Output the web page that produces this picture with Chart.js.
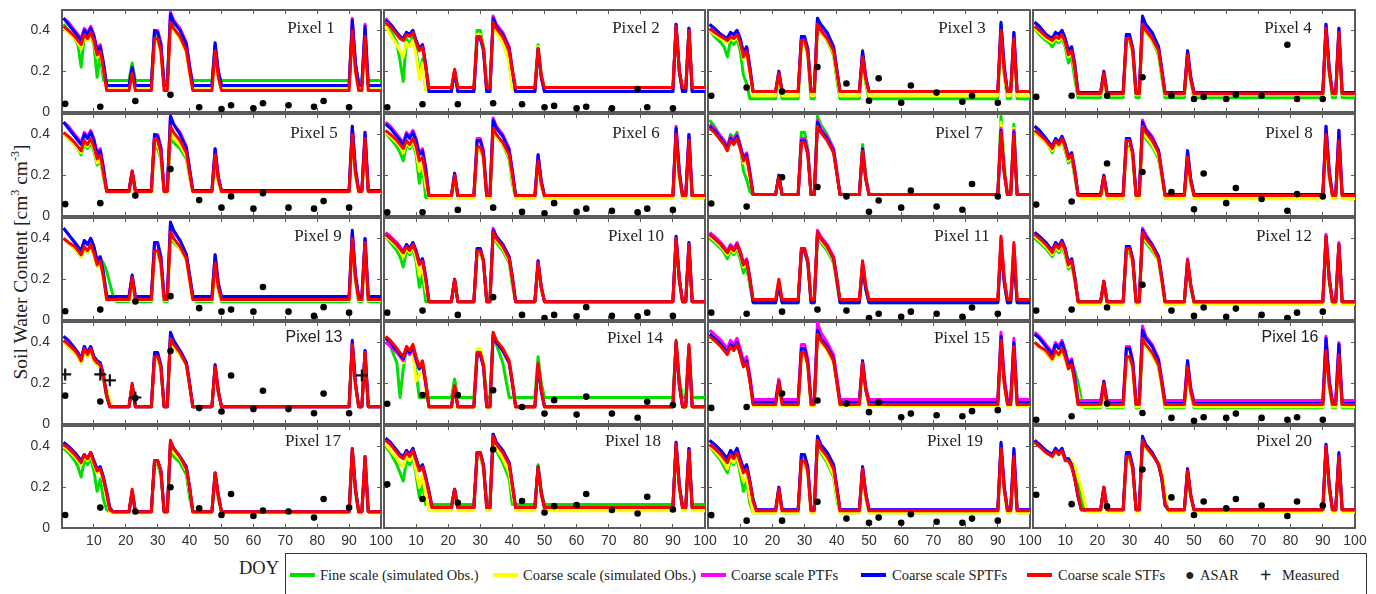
<!DOCTYPE html>
<html>
<head>
<meta charset="utf-8">
<script src="https://cdn.jsdelivr.net/npm/chart.js@4.4.0/dist/chart.umd.min.js"></script>
<style>
  body { margin: 0; width: 1376px; height: 594px; overflow: hidden; background: #fff; position: relative;
         font-family: "Liberation Serif", "DejaVu Serif", serif; color: #222; }
  canvas { position: absolute; }
  .pix { position: absolute; font-size: 17px; line-height: 1; white-space: nowrap; transform: translate(-50%, -50%); }
  .sans { font-family: "Liberation Sans", Arial, sans-serif; font-size: 16px; }
  #ytitle { position: absolute; left: 20px; top: 262px; font-size: 19.5px; white-space: nowrap;
            transform: translate(-50%, -50%) rotate(-90deg); }
  #ytitle sup { font-size: 12px; }
  #doy { position: absolute; left: 239px; top: 558px; font-size: 18.5px; }
  #legend { position: absolute; left: 285px; top: 553px; width: 1080px; height: 60px; border: 1.5px solid #333; }
  .li { position: absolute; top: 575px; font-size: 14.5px; line-height: 1; white-space: nowrap; transform: translateY(-50%); }
  .sw { position: absolute; top: 573px; width: 25px; height: 3.5px; }
</style>
</head>
<body>
<div id="ytitle">Soil Water Content [cm<sup>3</sup> cm<sup>-3</sup>]</div>
<div id="doy">DOY</div>
<div id="legend"></div>
<div class="sw" style="left:290px;background:#00e000"></div><div class="li" style="left:320px">Fine scale (simulated Obs.)</div>
<div class="sw" style="left:493px;background:#ffff00"></div><div class="li" style="left:523px">Coarse scale (simulated Obs.)</div>
<div class="sw" style="left:701px;background:#ff00ff"></div><div class="li" style="left:731px">Coarse scale PTFs</div>
<div class="sw" style="left:861px;background:#0000ff"></div><div class="li" style="left:892px">Coarse scale SPTFs</div>
<div class="sw" style="left:1027px;background:#ff0000"></div><div class="li" style="left:1058px">Coarse scale STFs</div>
<div class="li" style="left:1185px;font-size:16px">&#9679;</div><div class="li" style="left:1200px">ASAR</div>
<div class="li" style="left:1260px;font-size:20px;font-weight:bold">+</div><div class="li" style="left:1282px">Measured</div>
<script>
// day-of-year vertices shared by every simulated series
const doyKnots = [0.5, 2, 4, 5, 6, 7, 8, 9, 10, 11, 12, 13, 14, 15, 16, 17,
  21, 22, 23, 28, 29, 30, 31, 32, 33, 34, 35, 37, 39, 40, 41, 42,
  47, 48, 49, 50, 90, 91, 92, 93, 94, 95, 96, 100];
const asarDoy = [1, 12, 23, 34, 43, 50, 53, 60, 63, 71, 79, 82, 90];
const measuredDoy = [1, 12, 15, 23, 94];
const measured13 = [0.243, 0.243, 0.214, 0.13, 0.238];

const xTicks = [0, 10, 20, 30, 40, 50, 60, 70, 80, 90, 100];
const yTicks = [0, 0.2, 0.4];

// Pixel 1
const fine1 = [.43,.40,.36,.33,.22,.37,.35,.38,.33,.17,.28,.155,.155,.155,.155,.155, .155,.24,.155, .155,.38,.38,.31,.155,.155,.45,.41, .37,.30,.21,.155,.155, .155,.31,.18,.155, .155,.40,.22,.155,.155,.37,.155,.155];
const coarse1 = [.41,.39,.36,.34,.31,.37,.35,.38,.34,.27,.29,.20,.115,.115,.115,.115, .115,.19,.115, .115,.35,.35,.29,.115,.115,.43,.40, .36,.29,.19,.115,.115, .115,.29,.17,.115, .115,.39,.20,.115,.115,.36,.115,.115];
const ptf1 = [.46,.44,.40,.38,.36,.41,.39,.42,.38,.31,.33,.24,.13,.13,.13,.13, .13,.21,.13, .13,.40,.40,.34,.13,.13,.49,.45, .41,.34,.23,.13,.13, .13,.33,.20,.13, .13,.46,.24,.13,.13,.43,.13,.13];
const sptf1 = [.46,.43,.39,.37,.35,.40,.38,.41,.37,.30,.32,.24,.13,.13,.13,.13, .13,.22,.13, .13,.40,.39,.33,.13,.13,.48,.44, .40,.33,.22,.13,.13, .13,.34,.20,.13, .13,.45,.24,.13,.13,.42,.13,.13];
const stf1 = [.42,.40,.37,.35,.33,.38,.36,.39,.35,.28,.30,.21,.105,.105,.105,.105, .105,.19,.105, .105,.36,.36,.30,.105,.105,.44,.41, .37,.30,.20,.105,.105, .105,.30,.17,.105, .105,.40,.20,.105,.105,.37,.105,.105];
const asar1 = [.04,.026,.054,.084,.023,.015,.033,.018,.043,.033,.026,.054,.023];

// Pixel 2
const fine2 = [.43,.40,.34,.25,.15,.36,.33,.37,.30,.18,.26,.11,.11,.11,.11,.11, .11,.20,.11, .11,.40,.40,.32,.11,.11,.44,.40, .35,.25,.12,.11,.11, .11,.33,.18,.11, .11,.42,.20,.11,.11,.41,.11,.11];
const coarse2 = [.42,.38,.33,.30,.27,.34,.32,.35,.28,.16,.24,.11,.11,.11,.11,.11, .11,.20,.11, .11,.38,.38,.31,.11,.11,.43,.39, .34,.24,.11,.11,.11, .11,.32,.18,.11, .11,.41,.20,.11,.11,.40,.11,.11];
const ptf2 = [.46,.43,.39,.37,.36,.39,.38,.40,.35,.31,.33,.23,.10,.10,.10,.10, .10,.20,.10, .10,.37,.37,.31,.10,.10,.47,.43, .39,.32,.21,.10,.10, .10,.31,.17,.10, .10,.43,.20,.10,.10,.41,.10,.10];
const sptf2 = [.45,.43,.39,.37,.36,.39,.38,.40,.35,.31,.33,.23,.10,.10,.10,.10, .10,.20,.10, .10,.36,.36,.30,.10,.10,.46,.42, .38,.31,.20,.10,.10, .10,.31,.17,.10, .10,.43,.20,.10,.10,.41,.10,.10];
const stf2 = [.44,.42,.38,.36,.35,.38,.37,.39,.34,.30,.32,.22,.12,.12,.12,.12, .12,.21,.12, .12,.37,.37,.31,.12,.12,.44,.41, .37,.30,.20,.12,.12, .12,.31,.18,.12, .12,.42,.20,.12,.12,.40,.12,.12];
const asar2 = [.023,.038,.038,.043,.038,.023,.03,.018,.026,.018,.112,.023,.018];

// Pixel 3
const fine3 = [.40,.37,.34,.32,.27,.35,.33,.36,.30,.18,.14,.065,.065,.065,.065,.065, .065,.17,.065, .065,.34,.34,.28,.065,.065,.42,.39, .35,.28,.16,.065,.065, .065,.26,.14,.065, .065,.39,.18,.065,.065,.35,.065,.065];
const coarse3 = [.40,.38,.36,.35,.34,.36,.35,.37,.33,.26,.29,.19,.08,.08,.08,.08, .08,.18,.08, .08,.34,.34,.28,.08,.08,.42,.39, .35,.29,.18,.08,.08, .08,.26,.15,.08, .08,.39,.19,.08,.08,.35,.08,.08];
const ptf3 = [.43,.41,.38,.37,.36,.39,.38,.40,.36,.29,.32,.22,.10,.10,.10,.10, .10,.20,.10, .10,.37,.36,.31,.10,.10,.46,.42, .38,.32,.21,.10,.10, .10,.29,.17,.10, .10,.43,.22,.10,.10,.39,.10,.10];
const sptf3 = [.43,.41,.38,.37,.36,.39,.38,.40,.36,.29,.32,.22,.10,.10,.10,.10, .10,.20,.10, .10,.37,.37,.31,.10,.10,.46,.43, .39,.32,.21,.10,.10, .10,.30,.17,.10, .10,.44,.22,.10,.10,.39,.10,.10];
const stf3 = [.41,.39,.37,.36,.35,.37,.36,.38,.34,.27,.30,.20,.10,.10,.10,.10, .10,.19,.10, .10,.35,.35,.29,.10,.10,.43,.40, .36,.30,.20,.10,.10, .10,.27,.16,.10, .10,.40,.20,.10,.10,.36,.10,.10];
const asar3 = [.08,.12,.10,.22,.14,.055,.165,.045,.13,.095,.05,.08,.045];

// Pixel 4
const fine4 = [.41,.38,.35,.34,.32,.35,.34,.36,.32,.24,.27,.16,.07,.07,.07,.07, .07,.18,.07, .07,.35,.35,.29,.07,.07,.42,.39, .35,.28,.17,.07,.07, .07,.27,.15,.07, .07,.40,.19,.07,.07,.38,.07,.07];
const coarse4 = [.41,.39,.36,.35,.34,.36,.35,.37,.33,.27,.29,.20,.085,.085,.085,.085, .085,.18,.085, .085,.35,.35,.29,.085,.085,.42,.39, .35,.29,.19,.085,.085, .085,.27,.15,.085, .085,.40,.19,.085,.085,.38,.085,.085];
const ptf4 = [.44,.42,.38,.37,.36,.39,.38,.40,.36,.30,.32,.23,.095,.095,.095,.095, .095,.20,.095, .095,.38,.37,.31,.095,.095,.46,.42, .38,.32,.21,.095,.095, .095,.30,.17,.095, .095,.43,.21,.095,.095,.41,.095,.095];
const sptf4 = [.44,.42,.38,.37,.36,.39,.38,.40,.36,.30,.32,.23,.095,.095,.095,.095, .095,.20,.095, .095,.38,.38,.31,.095,.095,.47,.43, .39,.32,.21,.095,.095, .095,.30,.17,.095, .095,.43,.21,.095,.095,.41,.095,.095];
const stf4 = [.42,.40,.37,.36,.35,.37,.36,.38,.34,.28,.30,.21,.09,.09,.09,.09, .09,.19,.09, .09,.36,.36,.30,.09,.09,.43,.40, .36,.30,.20,.09,.09, .09,.28,.16,.09, .09,.41,.20,.09,.09,.39,.09,.09];
const asar4 = [.074,.08,.08,.17,.08,.064,.074,.064,.085,.08,.33,.064,.064];

// Pixel 5
const fine5 = [.40,.38,.35,.33,.30,.35,.33,.36,.32,.25,.27,.19,.12,.12,.12,.12, .12,.21,.12, .12,.33,.33,.28,.12,.12,.38,.36, .33,.28,.19,.12,.12, .12,.28,.17,.12, .12,.39,.20,.12,.12,.37,.12,.12];
const coarse5 = [.40,.38,.35,.33,.31,.36,.34,.37,.33,.26,.28,.20,.115,.115,.115,.115, .115,.21,.115, .115,.35,.35,.29,.115,.115,.41,.38, .35,.29,.19,.115,.115, .115,.29,.17,.115, .115,.39,.20,.115,.115,.37,.115,.115];
const ptf5 = [.46,.44,.40,.38,.36,.41,.39,.42,.38,.31,.33,.24,.125,.125,.125,.125, .125,.22,.125, .125,.40,.40,.34,.125,.125,.49,.45, .41,.34,.23,.125,.125, .125,.33,.19,.125, .125,.44,.23,.125,.125,.41,.125,.125];
const sptf5 = [.46,.43,.39,.37,.35,.40,.38,.41,.37,.30,.32,.23,.125,.125,.125,.125, .125,.22,.125, .125,.40,.39,.33,.125,.125,.49,.45, .40,.33,.23,.125,.125, .125,.33,.19,.125, .125,.44,.23,.125,.125,.41,.125,.125];
const stf5 = [.41,.39,.36,.34,.32,.37,.35,.38,.34,.28,.30,.21,.12,.12,.12,.12, .12,.22,.12, .12,.38,.37,.31,.12,.12,.44,.41, .37,.31,.21,.12,.12, .12,.30,.18,.12, .12,.40,.21,.12,.12,.38,.12,.12];
const asar5 = [.058,.063,.10,.23,.078,.041,.096,.036,.112,.041,.036,.073,.041];

// Pixel 6
const fine6 = [.41,.38,.34,.31,.27,.35,.33,.36,.30,.16,.24,.09,.09,.09,.09,.09, .09,.19,.09, .09,.33,.33,.28,.09,.09,.42,.39, .35,.28,.16,.09,.09, .09,.26,.15,.09, .09,.39,.19,.09,.09,.36,.09,.09];
const coarse6 = [.41,.39,.36,.34,.31,.36,.34,.37,.32,.22,.26,.15,.09,.09,.09,.09, .09,.19,.09, .09,.33,.33,.28,.09,.09,.42,.39, .35,.29,.18,.09,.09, .09,.26,.15,.09, .09,.39,.19,.09,.09,.36,.09,.09];
const ptf6 = [.46,.44,.40,.38,.36,.41,.39,.42,.38,.31,.33,.24,.10,.10,.10,.10, .10,.21,.10, .10,.38,.38,.32,.10,.10,.48,.44, .40,.33,.22,.10,.10, .10,.30,.17,.10, .10,.44,.22,.10,.10,.40,.10,.10];
const sptf6 = [.45,.43,.39,.37,.35,.40,.38,.41,.37,.30,.32,.23,.10,.10,.10,.10, .10,.21,.10, .10,.37,.37,.31,.10,.10,.47,.43, .39,.32,.22,.10,.10, .10,.30,.17,.10, .10,.43,.22,.10,.10,.40,.10,.10];
const stf6 = [.42,.40,.37,.35,.33,.37,.35,.38,.34,.27,.29,.20,.10,.10,.10,.10, .10,.20,.10, .10,.34,.34,.29,.10,.10,.43,.40, .36,.30,.20,.10,.10, .10,.27,.16,.10, .10,.40,.20,.10,.10,.37,.10,.10];
const asar6 = [.018,.018,.03,.041,.02,.013,.063,.02,.036,.025,.018,.036,.03];

// Pixel 7
const fine7 = [.47,.44,.39,.37,.33,.40,.38,.41,.35,.22,.18,.12,.105,.105,.105,.105, .105,.20,.105, .105,.41,.41,.33,.105,.105,.49,.45, .40,.33,.22,.105,.105, .105,.35,.20,.105, .105,.49,.25,.105,.105,.45,.105,.105];
const coarse7 = [.44,.41,.37,.35,.32,.37,.35,.38,.33,.26,.28,.19,.105,.105,.105,.105, .105,.19,.105, .105,.38,.38,.31,.105,.105,.47,.43, .38,.31,.21,.105,.105, .105,.33,.19,.105, .105,.46,.23,.105,.105,.43,.105,.105];
const ptf7 = [.45,.43,.39,.37,.34,.39,.37,.40,.35,.29,.31,.22,.105,.105,.105,.105, .105,.20,.105, .105,.38,.38,.32,.105,.105,.47,.43, .39,.33,.22,.105,.105, .105,.33,.19,.105, .105,.43,.22,.105,.105,.42,.105,.105];
const sptf7 = [.44,.42,.38,.36,.33,.38,.36,.39,.34,.28,.30,.21,.105,.105,.105,.105, .105,.20,.105, .105,.37,.37,.31,.105,.105,.46,.42, .38,.32,.21,.105,.105, .105,.33,.18,.105, .105,.42,.21,.105,.105,.41,.105,.105];
const stf7 = [.43,.41,.37,.35,.32,.37,.35,.38,.33,.27,.29,.20,.105,.105,.105,.105, .105,.19,.105, .105,.36,.36,.30,.105,.105,.44,.41, .37,.31,.21,.105,.105, .105,.32,.18,.105, .105,.41,.21,.105,.105,.40,.105,.105];
const asar7 = [.061,.046,.19,.142,.096,.021,.076,.041,.125,.046,.031,.157,.096];

// Pixel 8
const fine8 = [.41,.39,.36,.34,.31,.36,.34,.37,.32,.26,.28,.19,.10,.10,.10,.10, .10,.18,.10, .10,.34,.34,.28,.10,.10,.42,.38, .34,.28,.19,.10,.10, .10,.27,.16,.10, .10,.38,.19,.10,.10,.36,.10,.10];
const coarse8 = [.41,.39,.36,.34,.32,.36,.34,.37,.33,.27,.29,.20,.12,.085,.085,.085, .085,.18,.085, .085,.33,.33,.28,.085,.085,.42,.39, .35,.29,.19,.085,.085, .085,.27,.16,.085, .085,.38,.19,.085,.085,.36,.085,.085];
const ptf8 = [.44,.42,.38,.36,.34,.38,.36,.39,.35,.29,.31,.22,.105,.105,.105,.105, .105,.20,.105, .105,.38,.38,.31,.105,.105,.47,.43, .39,.32,.22,.105,.105, .105,.32,.18,.105, .105,.44,.22,.105,.105,.42,.105,.105];
const sptf8 = [.44,.42,.38,.36,.34,.38,.36,.39,.35,.29,.31,.22,.105,.105,.105,.105, .105,.20,.105, .105,.38,.38,.31,.105,.105,.46,.42, .38,.32,.21,.105,.105, .105,.32,.18,.105, .105,.44,.22,.105,.105,.42,.105,.105];
const stf8 = [.42,.40,.37,.35,.33,.37,.35,.38,.34,.28,.30,.21,.10,.10,.10,.10, .10,.19,.10, .10,.37,.37,.30,.10,.10,.44,.41, .37,.31,.21,.10,.10, .10,.29,.17,.10, .10,.40,.20,.10,.10,.37,.10,.10];
const asar8 = [.056,.071,.257,.216,.117,.033,.208,.063,.137,.083,.026,.107,.096];

// Pixel 9
const fine9 = [.40,.38,.35,.33,.31,.35,.33,.36,.32,.30,.30,.28,.24,.18,.12,.09, .09,.20,.09, .09,.33,.33,.27,.09,.09,.41,.38, .35,.30,.22,.12,.09, .09,.27,.15,.09, .09,.39,.19,.09,.09,.37,.09,.09];
const coarse9 = [.40,.38,.35,.33,.31,.35,.33,.36,.32,.26,.28,.20,.095,.095,.095,.095, .095,.20,.095, .095,.33,.33,.27,.095,.095,.42,.39, .35,.29,.19,.095,.095, .095,.27,.15,.095, .095,.39,.19,.095,.095,.37,.095,.095];
const ptf9 = [.45,.42,.38,.36,.34,.39,.37,.40,.36,.29,.31,.23,.115,.115,.115,.115, .115,.22,.115, .115,.38,.37,.31,.115,.115,.47,.43, .39,.32,.22,.115,.115, .115,.32,.18,.115, .115,.43,.22,.115,.115,.40,.115,.115];
const sptf9 = [.45,.42,.38,.36,.34,.39,.37,.40,.36,.29,.31,.23,.115,.115,.115,.115, .115,.22,.115, .115,.38,.38,.31,.115,.115,.48,.44, .39,.32,.22,.115,.115, .115,.32,.18,.115, .115,.44,.22,.115,.115,.40,.115,.115];
const stf9 = [.40,.38,.36,.34,.32,.36,.34,.37,.33,.27,.29,.21,.10,.10,.10,.10, .10,.21,.10, .10,.34,.34,.28,.10,.10,.43,.40, .36,.30,.20,.10,.10, .10,.28,.16,.10, .10,.40,.20,.10,.10,.38,.10,.10];
const asar9 = [.043,.051,.091,.117,.058,.041,.051,.041,.162,.041,.02,.063,.036];

// Pixel 10
const fine10 = [.41,.38,.34,.31,.26,.34,.32,.35,.29,.16,.22,.09,.09,.09,.09,.09, .09,.19,.09, .09,.33,.33,.28,.09,.09,.42,.38, .34,.28,.17,.09,.09, .09,.27,.15,.09, .09,.39,.19,.09,.09,.36,.09,.09];
const coarse10 = [.41,.39,.36,.34,.31,.35,.33,.36,.31,.22,.26,.15,.09,.09,.09,.09, .09,.19,.09, .09,.33,.33,.28,.09,.09,.42,.39, .35,.29,.19,.09,.09, .09,.27,.15,.09, .09,.39,.19,.09,.09,.36,.09,.09];
const ptf10 = [.43,.41,.38,.36,.34,.37,.35,.38,.34,.28,.30,.21,.09,.09,.09,.09, .09,.20,.09, .09,.35,.35,.29,.09,.09,.45,.41, .37,.31,.21,.09,.09, .09,.29,.16,.09, .09,.41,.20,.09,.09,.38,.09,.09];
const sptf10 = [.42,.40,.37,.35,.33,.37,.35,.38,.34,.28,.30,.21,.09,.09,.09,.09, .09,.20,.09, .09,.35,.35,.29,.09,.09,.44,.41, .37,.31,.21,.09,.09, .09,.29,.16,.09, .09,.41,.20,.09,.09,.38,.09,.09];
const stf10 = [.42,.40,.37,.35,.33,.36,.34,.37,.33,.27,.29,.20,.09,.09,.09,.09, .09,.20,.09, .09,.34,.34,.29,.09,.09,.43,.40, .36,.30,.20,.09,.09, .09,.28,.16,.09, .09,.40,.20,.09,.09,.37,.09,.09];
const asar10 = [.036,.046,.025,.112,.025,.01,.025,.018,.063,.02,.018,.036,.02];

// Pixel 11
const fine11 = [.40,.38,.35,.33,.30,.34,.32,.35,.30,.23,.26,.17,.085,.085,.085,.085, .085,.18,.085, .085,.33,.33,.28,.085,.085,.41,.38, .34,.28,.18,.085,.085, .085,.27,.15,.085, .085,.38,.19,.085,.085,.35,.085,.085];
const coarse11 = [.41,.39,.36,.34,.32,.35,.33,.36,.32,.26,.28,.19,.085,.085,.085,.085, .085,.19,.085, .085,.34,.34,.28,.085,.085,.42,.39, .35,.29,.19,.085,.085, .085,.28,.16,.085, .085,.39,.19,.085,.085,.36,.085,.085];
const ptf11 = [.43,.41,.38,.36,.34,.37,.35,.38,.34,.28,.30,.21,.09,.09,.09,.09, .09,.19,.09, .09,.35,.35,.29,.09,.09,.44,.41, .37,.31,.21,.09,.09, .09,.28,.16,.09, .09,.40,.20,.09,.09,.37,.09,.09];
const sptf11 = [.42,.40,.37,.35,.33,.36,.34,.37,.33,.27,.29,.20,.085,.085,.085,.085, .085,.17,.085, .085,.34,.34,.28,.085,.085,.43,.40, .36,.30,.20,.085,.085, .085,.26,.15,.085, .085,.36,.18,.085,.085,.31,.085,.085];
const stf11 = [.42,.40,.37,.35,.33,.36,.34,.37,.33,.27,.29,.20,.10,.10,.10,.10, .10,.20,.10, .10,.35,.35,.29,.10,.10,.43,.40, .36,.30,.20,.10,.10, .10,.29,.17,.10, .10,.41,.20,.10,.10,.38,.10,.10];
const asar11 = [.036,.031,.041,.051,.046,.01,.031,.016,.041,.031,.016,.061,.031];

// Pixel 12
const fine12 = [.40,.38,.35,.33,.31,.35,.33,.36,.32,.25,.27,.19,.10,.08,.08,.08, .08,.18,.08, .08,.33,.33,.28,.08,.08,.41,.38, .34,.29,.19,.08,.08, .08,.27,.16,.08, .08,.39,.19,.08,.08,.35,.08,.08];
const coarse12 = [.41,.39,.36,.34,.32,.36,.34,.37,.33,.26,.28,.19,.08,.08,.08,.08, .08,.18,.08, .08,.34,.34,.28,.08,.08,.42,.39, .35,.29,.19,.08,.08, .08,.28,.16,.08, .08,.40,.19,.08,.08,.36,.08,.08];
const ptf12 = [.43,.41,.38,.36,.34,.38,.36,.39,.35,.28,.30,.21,.09,.09,.09,.09, .09,.19,.09, .09,.36,.36,.30,.09,.09,.45,.42, .37,.31,.21,.09,.09, .09,.30,.17,.09, .09,.42,.21,.09,.09,.38,.09,.09];
const sptf12 = [.43,.41,.38,.36,.34,.38,.36,.39,.35,.28,.30,.21,.09,.09,.09,.09, .09,.19,.09, .09,.36,.36,.30,.09,.09,.44,.41, .37,.31,.21,.09,.09, .09,.29,.17,.09, .09,.41,.20,.09,.09,.37,.09,.09];
const stf12 = [.42,.40,.37,.35,.33,.37,.35,.38,.34,.27,.29,.20,.09,.09,.09,.09, .09,.19,.09, .09,.35,.35,.29,.09,.09,.43,.40, .36,.30,.20,.09,.09, .09,.29,.17,.09, .09,.41,.20,.09,.09,.37,.09,.09];
const asar12 = [.046,.051,.061,.173,.046,.02,.061,.016,.056,.025,.01,.036,.041];

// Pixel 13
const fine13 = [.40,.38,.35,.33,.30,.36,.33,.36,.31,.29,.28,.22,.13,.085,.085,.085, .085,.19,.085, .085,.32,.32,.27,.085,.085,.41,.38, .34,.29,.19,.085,.085, .085,.27,.15,.085, .085,.38,.19,.085,.085,.34,.085,.085];
const coarse13 = [.40,.38,.35,.33,.30,.36,.33,.36,.31,.29,.28,.23,.17,.11,.085,.085, .085,.19,.085, .085,.32,.32,.27,.085,.085,.41,.38, .34,.29,.19,.085,.085, .085,.27,.15,.085, .085,.38,.19,.085,.085,.34,.085,.085];
const ptf13 = [.43,.41,.37,.35,.32,.38,.35,.38,.33,.31,.30,.24,.14,.085,.085,.085, .085,.19,.085, .085,.34,.34,.29,.085,.085,.44,.40, .36,.30,.20,.085,.085, .085,.29,.16,.085, .085,.40,.20,.085,.085,.36,.085,.085];
const sptf13 = [.43,.41,.37,.35,.32,.38,.35,.38,.33,.31,.30,.24,.14,.085,.085,.085, .085,.19,.085, .085,.35,.35,.29,.085,.085,.45,.41, .36,.30,.20,.085,.085, .085,.29,.16,.085, .085,.41,.20,.085,.085,.36,.085,.085];
const stf13 = [.41,.39,.36,.34,.31,.37,.34,.37,.32,.30,.29,.23,.14,.085,.085,.085, .085,.20,.085, .085,.33,.33,.28,.085,.085,.42,.39, .35,.29,.19,.085,.085, .085,.28,.16,.085, .085,.39,.19,.085,.085,.35,.085,.085];
const asar13 = [.139,.11,.127,.358,.078,.061,.238,.073,.163,.073,.053,.149,.053];

// Pixel 14
const fine14 = [.42,.38,.30,.13,.27,.37,.34,.36,.25,.13,.13,.13,.13,.13,.13,.13, .13,.22,.13, .13,.36,.36,.30,.13,.13,.43,.39, .30,.13,.13,.13,.13, .13,.33,.20,.13, .13,.40,.22,.13,.13,.38,.13,.13];
const coarse14 = [.42,.39,.35,.33,.30,.36,.34,.35,.21,.24,.27,.17,.08,.08,.08,.08, .08,.19,.08, .08,.37,.37,.30,.08,.08,.44,.40, .36,.29,.18,.08,.08, .08,.30,.17,.08, .08,.40,.19,.08,.08,.38,.08,.08];
const ptf14 = [.40,.38,.35,.33,.31,.36,.34,.37,.31,.27,.29,.20,.085,.085,.085,.085, .085,.18,.085, .085,.34,.34,.28,.085,.085,.43,.40, .36,.30,.20,.085,.085, .085,.29,.16,.085, .085,.39,.19,.085,.085,.37,.085,.085];
const sptf14 = [.42,.40,.36,.34,.32,.37,.35,.38,.32,.27,.30,.20,.085,.085,.085,.085, .085,.18,.085, .085,.34,.34,.28,.085,.085,.44,.40, .36,.30,.20,.085,.085, .085,.29,.16,.085, .085,.40,.19,.085,.085,.38,.085,.085];
const stf14 = [.43,.41,.37,.35,.33,.38,.36,.39,.33,.28,.31,.21,.085,.085,.085,.085, .085,.19,.085, .085,.35,.35,.29,.085,.085,.45,.41, .37,.31,.21,.085,.085, .085,.30,.17,.085, .085,.41,.20,.085,.085,.39,.085,.085];
const asar14 = [.099,.142,.142,.165,.083,.051,.117,.046,.134,.051,.031,.109,.093];

// Pixel 15
const fine15 = [.46,.43,.39,.37,.35,.39,.37,.40,.35,.29,.31,.22,.095,.095,.095,.095, .095,.20,.095, .095,.35,.35,.29,.095,.095,.44,.41, .37,.31,.21,.095,.095, .095,.29,.17,.095, .095,.40,.20,.095,.095,.37,.095,.095];
const coarse15 = [.43,.41,.38,.36,.34,.38,.36,.39,.34,.28,.30,.21,.09,.09,.09,.09, .09,.20,.09, .09,.34,.34,.29,.09,.09,.43,.40, .36,.30,.20,.09,.09, .09,.29,.17,.09, .09,.40,.20,.09,.09,.37,.09,.09];
const ptf15 = [.46,.44,.41,.39,.37,.41,.39,.42,.37,.31,.33,.24,.12,.12,.12,.12, .12,.22,.12, .12,.39,.39,.32,.12,.12,.50,.45, .40,.34,.23,.12,.12, .12,.31,.18,.12, .12,.45,.23,.12,.12,.42,.12,.12];
const sptf15 = [.44,.42,.39,.37,.35,.39,.37,.40,.35,.29,.31,.22,.105,.105,.105,.105, .105,.21,.105, .105,.37,.37,.30,.105,.105,.46,.42, .38,.32,.21,.105,.105, .105,.31,.17,.105, .105,.43,.21,.105,.105,.40,.105,.105];
const stf15 = [.43,.41,.38,.36,.34,.38,.36,.39,.34,.28,.30,.21,.095,.095,.095,.095, .095,.21,.095, .095,.35,.35,.29,.095,.095,.44,.41, .37,.31,.21,.095,.095, .095,.30,.17,.095, .095,.41,.20,.095,.095,.38,.095,.095];
const asar15 = [.079,.083,.149,.115,.10,.058,.107,.033,.051,.043,.038,.063,.068];

// Pixel 16
const fine16 = [.40,.38,.35,.33,.31,.35,.33,.36,.32,.29,.30,.26,.20,.12,.08,.08, .08,.19,.08, .08,.32,.32,.27,.08,.08,.41,.38, .34,.28,.19,.08,.08, .08,.27,.15,.08, .08,.36,.18,.08,.08,.33,.08,.08];
const coarse16 = [.40,.38,.35,.33,.31,.35,.33,.36,.32,.27,.29,.22,.15,.085,.085,.085, .085,.19,.085, .085,.32,.32,.27,.085,.085,.41,.38, .34,.28,.19,.085,.085, .085,.27,.15,.085, .085,.36,.18,.085,.085,.33,.085,.085];
const ptf16 = [.45,.43,.39,.37,.35,.40,.38,.41,.36,.30,.32,.23,.115,.115,.115,.115, .115,.21,.115, .115,.38,.38,.31,.115,.115,.48,.43, .39,.32,.22,.115,.115, .115,.31,.18,.115, .115,.43,.22,.115,.115,.40,.115,.115];
const sptf16 = [.44,.42,.38,.36,.34,.39,.37,.40,.35,.29,.31,.22,.10,.10,.10,.10, .10,.21,.10, .10,.37,.37,.30,.10,.10,.46,.42, .38,.31,.21,.10,.10, .10,.31,.17,.10, .10,.42,.21,.10,.10,.39,.10,.10];
const stf16 = [.40,.38,.36,.34,.32,.36,.34,.37,.33,.27,.29,.20,.095,.095,.095,.095, .095,.20,.095, .095,.33,.33,.28,.095,.095,.42,.39, .35,.29,.20,.095,.095, .095,.28,.16,.095, .095,.36,.19,.095,.095,.34,.095,.095];
const asar16 = [.021,.038,.10,.054,.03,.016,.033,.03,.051,.03,.021,.033,.021];

// Pixel 17
const fine17 = [.39,.37,.33,.30,.25,.33,.31,.34,.28,.18,.24,.14,.09,.08,.08,.08, .08,.17,.08, .08,.31,.31,.26,.08,.08,.37,.35, .32,.26,.15,.08,.08, .08,.25,.14,.08, .08,.36,.17,.08,.08,.32,.08,.08];
const coarse17 = [.40,.38,.35,.33,.31,.35,.33,.36,.31,.27,.28,.23,.15,.08,.075,.075, .075,.17,.075, .075,.32,.32,.27,.075,.075,.40,.37, .34,.28,.18,.075,.075, .075,.26,.15,.075, .075,.37,.18,.075,.075,.33,.075,.075];
const ptf17 = [.42,.40,.37,.35,.33,.36,.34,.37,.33,.29,.30,.24,.17,.09,.08,.08, .08,.18,.08, .08,.33,.33,.28,.08,.08,.42,.39, .35,.29,.20,.08,.08, .08,.27,.16,.08, .08,.38,.19,.08,.08,.34,.08,.08];
const sptf17 = [.42,.40,.37,.35,.33,.36,.34,.37,.33,.29,.30,.25,.18,.10,.08,.08, .08,.18,.08, .08,.33,.33,.28,.08,.08,.42,.39, .35,.30,.20,.08,.08, .08,.27,.16,.08, .08,.39,.19,.08,.08,.35,.08,.08];
const stf17 = [.41,.39,.36,.34,.32,.36,.34,.37,.32,.28,.29,.24,.17,.09,.08,.08, .08,.19,.08, .08,.33,.33,.28,.08,.08,.43,.39, .35,.29,.20,.08,.08, .08,.27,.16,.08, .08,.39,.19,.08,.08,.35,.08,.08];
const asar17 = [.064,.10,.081,.20,.097,.064,.167,.059,.086,.081,.051,.142,.10];

// Pixel 18
const fine18 = [.40,.37,.31,.27,.23,.33,.31,.35,.26,.15,.22,.115,.115,.115,.115,.115, .115,.19,.115, .115,.35,.35,.29,.115,.115,.42,.38, .32,.24,.115,.115,.115, .115,.31,.18,.115, .115,.40,.20,.115,.115,.37,.115,.115];
const coarse18 = [.41,.38,.34,.32,.30,.35,.33,.36,.28,.20,.26,.16,.085,.085,.085,.085, .085,.18,.085, .085,.36,.36,.29,.085,.085,.43,.39, .34,.27,.17,.085,.085, .085,.29,.16,.085, .085,.40,.19,.085,.085,.37,.085,.085];
const ptf18 = [.44,.42,.38,.36,.35,.38,.36,.39,.34,.29,.31,.25,.18,.10,.10,.10, .10,.19,.10, .10,.37,.37,.31,.10,.10,.46,.42, .38,.32,.21,.10,.10, .10,.30,.17,.10, .10,.42,.21,.10,.10,.39,.10,.10];
const sptf18 = [.44,.42,.38,.36,.35,.38,.36,.39,.34,.29,.31,.25,.18,.10,.10,.10, .10,.19,.10, .10,.37,.37,.31,.10,.10,.46,.42, .38,.32,.21,.10,.10, .10,.30,.17,.10, .10,.42,.21,.10,.10,.39,.10,.10];
const stf18 = [.43,.41,.37,.35,.34,.37,.35,.38,.33,.28,.30,.24,.17,.10,.10,.10, .10,.19,.10, .10,.37,.37,.30,.10,.10,.45,.41, .37,.31,.21,.10,.10, .10,.30,.17,.10, .10,.41,.20,.10,.10,.38,.10,.10];
const asar18 = [.214,.142,.124,.385,.132,.076,.107,.112,.167,.088,.071,.153,.091];

// Pixel 19
const fine19 = [.40,.37,.33,.30,.27,.33,.31,.34,.27,.18,.23,.12,.075,.075,.075,.075, .075,.18,.075, .075,.32,.32,.27,.075,.075,.41,.37, .32,.25,.14,.075,.075, .075,.28,.15,.075, .075,.38,.18,.075,.075,.34,.075,.075];
const coarse19 = [.40,.38,.34,.32,.29,.34,.32,.35,.29,.23,.25,.15,.075,.075,.075,.075, .075,.18,.075, .075,.32,.32,.27,.075,.075,.42,.38, .33,.26,.15,.075,.075, .075,.28,.15,.075, .075,.38,.18,.075,.075,.34,.075,.075];
const ptf19 = [.43,.41,.38,.36,.34,.38,.36,.39,.34,.29,.31,.23,.14,.09,.09,.09, .09,.20,.09, .09,.36,.35,.30,.09,.09,.45,.41, .37,.31,.20,.09,.09, .09,.30,.17,.09, .09,.41,.20,.09,.09,.38,.09,.09];
const sptf19 = [.43,.41,.38,.36,.34,.38,.36,.39,.34,.29,.31,.23,.14,.09,.09,.09, .09,.20,.09, .09,.36,.36,.30,.09,.09,.45,.41, .37,.31,.20,.09,.09, .09,.30,.17,.09, .09,.42,.20,.09,.09,.39,.09,.09];
const stf19 = [.41,.39,.36,.34,.32,.36,.34,.37,.32,.27,.29,.22,.13,.085,.085,.085, .085,.19,.085, .085,.33,.33,.28,.085,.085,.43,.39, .35,.29,.19,.085,.085, .085,.29,.16,.085, .085,.39,.19,.085,.085,.35,.085,.085];
const asar19 = [.063,.036,.036,.129,.046,.026,.051,.026,.068,.031,.026,.046,.036];

// Pixel 20
const fine20 = [.42,.40,.37,.36,.35,.38,.36,.38,.34,.34,.32,.28,.22,.15,.085,.085, .085,.19,.085, .085,.34,.34,.29,.085,.085,.42,.39, .36,.32,.26,.15,.085, .085,.27,.15,.085, .085,.39,.19,.085,.085,.34,.085,.085];
const coarse20 = [.42,.40,.37,.36,.35,.38,.36,.38,.34,.34,.33,.30,.25,.20,.13,.08, .08,.19,.08, .08,.33,.33,.29,.08,.08,.42,.39, .36,.32,.27,.17,.08, .08,.27,.15,.08, .08,.39,.19,.08,.08,.34,.08,.08];
const ptf20 = [.43,.41,.38,.37,.36,.39,.37,.39,.34,.34,.31,.24,.16,.09,.09,.09, .09,.20,.09, .09,.36,.36,.30,.09,.09,.44,.41, .37,.31,.24,.12,.09, .09,.29,.16,.09, .09,.41,.21,.09,.09,.36,.09,.09];
const sptf20 = [.43,.41,.38,.37,.36,.39,.37,.39,.34,.34,.31,.24,.15,.09,.09,.09, .09,.20,.09, .09,.37,.37,.30,.09,.09,.45,.41, .37,.31,.24,.11,.09, .09,.29,.16,.09, .09,.41,.21,.09,.09,.37,.09,.09];
const stf20 = [.42,.40,.37,.36,.35,.38,.36,.38,.33,.33,.30,.24,.16,.09,.09,.09, .09,.20,.09, .09,.35,.35,.29,.09,.09,.43,.40, .36,.31,.25,.12,.09, .09,.28,.16,.09, .09,.40,.20,.09,.09,.35,.09,.09];
const asar20 = [.163,.117,.106,.287,.15,.064,.13,.097,.142,.11,.059,.13,.11];

const panels = [
  [fine1, coarse1, ptf1, sptf1, stf1, asar1], [fine2, coarse2, ptf2, sptf2, stf2, asar2],
  [fine3, coarse3, ptf3, sptf3, stf3, asar3], [fine4, coarse4, ptf4, sptf4, stf4, asar4],
  [fine5, coarse5, ptf5, sptf5, stf5, asar5], [fine6, coarse6, ptf6, sptf6, stf6, asar6],
  [fine7, coarse7, ptf7, sptf7, stf7, asar7], [fine8, coarse8, ptf8, sptf8, stf8, asar8],
  [fine9, coarse9, ptf9, sptf9, stf9, asar9], [fine10, coarse10, ptf10, sptf10, stf10, asar10],
  [fine11, coarse11, ptf11, sptf11, stf11, asar11], [fine12, coarse12, ptf12, sptf12, stf12, asar12],
  [fine13, coarse13, ptf13, sptf13, stf13, asar13], [fine14, coarse14, ptf14, sptf14, stf14, asar14],
  [fine15, coarse15, ptf15, sptf15, stf15, asar15], [fine16, coarse16, ptf16, sptf16, stf16, asar16],
  [fine17, coarse17, ptf17, sptf17, stf17, asar17], [fine18, coarse18, ptf18, sptf18, stf18, asar18],
  [fine19, coarse19, ptf19, sptf19, stf19, asar19], [fine20, coarse20, ptf20, sptf20, stf20, asar20],
];

const seriesNames = ["Fine scale (simulated Obs.)", "Coarse scale (simulated Obs.)",
  "Coarse scale PTFs", "Coarse scale SPTFs", "Coarse scale STFs"];
const seriesColors = ["#00e000", "#ffff00", "#ff00ff", "#0000ff", "#ff0000"];

// panel layout (page pixels)
const colLeft = [62, 384, 708, 1033];
const colWidth = [319, 321, 322, 322];
const rowTop = [10, 114, 218, 322, 426];
const rowHeight = 102;
const padL = 50, padR = 20, padT = 6, padB = 26;
const labelX = [311, 636, 962, 1288, 314, 636, 959, 1289, 318, 636, 962, 1284, 314, 635, 962, 1290, 313, 633, 955, 1284];
const labelDy = [17, 18, 17, 15, 14];

Chart.defaults.font.family = '"Liberation Sans", Arial, sans-serif';
Chart.defaults.font.size = 14;
Chart.defaults.color = "#333";

const toXY = (xs, ys) => xs.map((x, i) => ({ x: x, y: ys[i] }));
const frame = { display: true, color: "#5a5a5a", width: 2 };
const tickGrid = { display: true, drawOnChartArea: false, drawTicks: true, tickLength: -4, color: "#5a5a5a", lineWidth: 1 };

// fixed axis thickness, no automatic label padding
const fixX = (h) => (s) => { s.height = h; s.paddingLeft = 0; s.paddingRight = 0; s.paddingTop = 0; s.paddingBottom = 0; };
const fixY = (w) => (s) => { s.width = w; s.paddingLeft = 0; s.paddingRight = 0; s.paddingTop = 0; s.paddingBottom = 0; };

panels.forEach((p, i) => {
  const row = Math.floor(i / 4), col = i % 4;
  const cv = document.createElement("canvas");
  cv.width = colWidth[col] + padL + padR;
  cv.height = rowHeight + padT + padB;
  cv.style.left = (colLeft[col] - padL) + "px";
  cv.style.top = (rowTop[row] - padT) + "px";
  document.body.appendChild(cv);

  const datasets = seriesNames.map((name, k) => ({
    label: name,
    data: toXY(doyKnots, p[k]),
    borderColor: seriesColors[k],
    borderWidth: 3,
    borderJoinStyle: "round",
    pointRadius: 0,
    tension: 0,
    fill: false,
    order: 10 - k,
  }));
  datasets.push({
    label: "ASAR",
    data: toXY(asarDoy, p[5]),
    showLine: false,
    pointRadius: 3.3,
    pointBackgroundColor: "#000",
    pointBorderWidth: 0,
    order: 1,
  });
  if (i === 12) {
    datasets.push({
      label: "Measured",
      data: toXY(measuredDoy, measured13),
      showLine: false,
      pointStyle: "cross",
      pointRadius: 6,
      pointBorderColor: "#111",
      pointBorderWidth: 2.2,
      order: 0,
    });
  }

  new Chart(cv, {
    type: "line",
    data: { datasets: datasets },
    options: {
      responsive: false,
      animation: false,
      events: [],
      layout: { autoPadding: false, padding: { left: 0, right: padR, top: padT, bottom: 0 } },
      plugins: { legend: { display: false }, tooltip: { enabled: false } },
      scales: {
        x: {
          type: "linear", position: "bottom", min: 0, max: 100,
          border: frame, grid: tickGrid,
          afterBuildTicks: (s) => { s.ticks = xTicks.map((v) => ({ value: v })); },
          afterFit: fixX(padB),
          ticks: { display: row === 4, padding: 9, maxRotation: 0, autoSkip: false,
                   callback: (v) => (v === 0 ? "" : String(v)) },
        },
        x2: {
          type: "linear", position: "top", min: 0, max: 100,
          border: frame, grid: tickGrid,
          afterBuildTicks: (s) => { s.ticks = xTicks.map((v) => ({ value: v })); },
          afterFit: fixX(0),
          ticks: { display: false },
        },
        y: {
          type: "linear", position: "left", min: 0, max: 0.5,
          border: frame, grid: tickGrid,
          afterBuildTicks: (s) => { s.ticks = yTicks.map((v) => ({ value: v })); },
          afterFit: fixY(padL),
          ticks: { display: col === 0, padding: 16, callback: (v) => String(v) },
        },
        y2: {
          type: "linear", position: "right", min: 0, max: 0.5,
          border: frame, grid: tickGrid,
          afterBuildTicks: (s) => { s.ticks = yTicks.map((v) => ({ value: v })); },
          afterFit: fixY(0),
          ticks: { display: false },
        },
      },
    },
  });

  const lbl = document.createElement("div");
  lbl.className = "pix" + (i === 12 || i === 15 ? " sans" : "");
  lbl.textContent = "Pixel " + (i + 1);
  lbl.style.left = labelX[i] + "px";
  lbl.style.top = (rowTop[row] + labelDy[row]) + "px";
  document.body.appendChild(lbl);
});
</script>
</body>
</html>
